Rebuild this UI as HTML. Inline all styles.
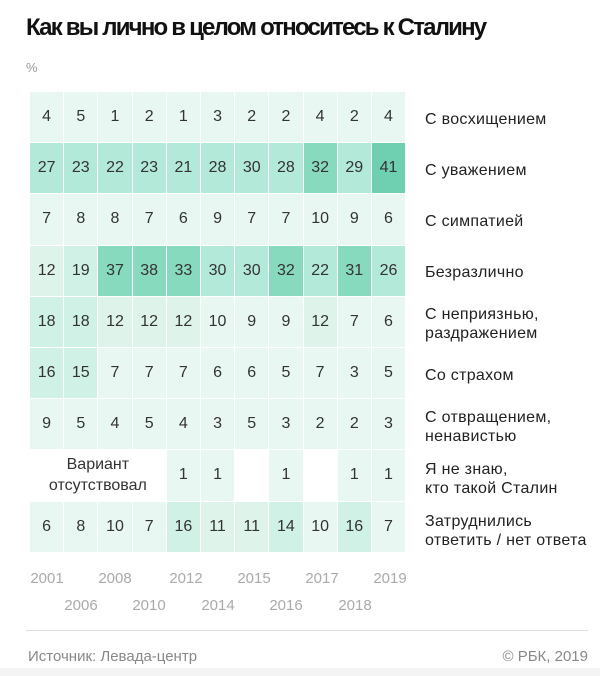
<!DOCTYPE html>
<html><head><meta charset="utf-8"><style>
body{margin:0;width:600px;height:676px;background:#fff;position:relative;overflow:hidden;font-family:"Liberation Sans","DejaVu Sans",sans-serif;color:#222}
.t{position:absolute;left:26px;top:14px;font-size:24px;font-weight:bold;letter-spacing:-1.8px;color:#111;white-space:nowrap}
.p{position:absolute;left:26px;top:60px;font-size:13px;color:#999}
.g{position:absolute;left:30px;top:92px;display:grid;grid-template-columns:repeat(11,33.2px);grid-auto-rows:50.2px;gap:1px}
.g div{display:flex;align-items:center;justify-content:center;font-size:16px;color:#333}
.a{background:#e8f7f1}.b{background:#def4eb}.c{background:#d0f1e5}.d{background:#b3e9d8}.e{background:#88dabf}.f{background:#6fd0b1}.w{background:#fff}
.g .v{grid-column:span 4;text-align:center;line-height:21px;font-size:16px}
.l{position:absolute;left:425px;font-size:16px;line-height:19px;color:#222;letter-spacing:0.3px;white-space:nowrap}
.y{position:absolute;font-size:15px;color:#aaa;width:50px;text-align:center}
.line{position:absolute;left:26px;top:630px;width:562px;height:1px;background:#ddd}
.s{position:absolute;top:648px;font-size:15px;color:#888}
.band{position:absolute;left:0;top:668px;width:600px;height:8px;background:#f4f4f4}
</style></head><body>
<div class="t">Как вы лично в целом относитесь к Сталину</div>
<div class="p">%</div>
<div class="g">
<div class="a">4</div><div class="a">5</div><div class="a">1</div><div class="a">2</div><div class="a">1</div><div class="a">3</div><div class="a">2</div><div class="a">2</div><div class="a">4</div><div class="a">2</div><div class="a">4</div>
<div class="d">27</div><div class="d">23</div><div class="d">22</div><div class="d">23</div><div class="d">21</div><div class="d">28</div><div class="d">30</div><div class="d">28</div><div class="e">32</div><div class="d">29</div><div class="f">41</div>
<div class="a">7</div><div class="a">8</div><div class="a">8</div><div class="a">7</div><div class="a">6</div><div class="a">9</div><div class="a">7</div><div class="a">7</div><div class="a">10</div><div class="a">9</div><div class="a">6</div>
<div class="b">12</div><div class="c">19</div><div class="e">37</div><div class="e">38</div><div class="e">33</div><div class="d">30</div><div class="d">30</div><div class="e">32</div><div class="d">22</div><div class="e">31</div><div class="d">26</div>
<div class="c">18</div><div class="c">18</div><div class="b">12</div><div class="b">12</div><div class="b">12</div><div class="a">10</div><div class="a">9</div><div class="a">9</div><div class="b">12</div><div class="a">7</div><div class="a">6</div>
<div class="c">16</div><div class="c">15</div><div class="a">7</div><div class="a">7</div><div class="a">7</div><div class="a">6</div><div class="a">6</div><div class="a">5</div><div class="a">7</div><div class="a">3</div><div class="a">5</div>
<div class="a">9</div><div class="a">5</div><div class="a">4</div><div class="a">5</div><div class="a">4</div><div class="a">3</div><div class="a">5</div><div class="a">3</div><div class="a">2</div><div class="a">2</div><div class="a">3</div>
<div class="w v">Вариант<br>отсутствовал</div><div class="a">1</div><div class="a">1</div><div class="w"></div><div class="a">1</div><div class="w"></div><div class="a">1</div><div class="a">1</div>
<div class="a">6</div><div class="a">8</div><div class="a">10</div><div class="a">7</div><div class="c">16</div><div class="b">11</div><div class="b">11</div><div class="c">14</div><div class="a">10</div><div class="c">16</div><div class="a">7</div>
</div>
<div class="l" style="top:110px">С восхищением</div>
<div class="l" style="top:161px">С уважением</div>
<div class="l" style="top:212px">С симпатией</div>
<div class="l" style="top:263px">Безразлично</div>
<div class="l" style="top:305px">С неприязнью,<br>раздражением</div>
<div class="l" style="top:366px">Со страхом</div>
<div class="l" style="top:408px">С отвращением,<br>ненавистью</div>
<div class="l" style="top:460px">Я не знаю,<br>кто такой Сталин</div>
<div class="l" style="top:512px">Затруднились<br>ответить / нет ответа</div>
<div class="y" style="left:22px;top:570px">2001</div>
<div class="y" style="left:56px;top:597px">2006</div>
<div class="y" style="left:90px;top:570px">2008</div>
<div class="y" style="left:124px;top:597px">2010</div>
<div class="y" style="left:161px;top:570px">2012</div>
<div class="y" style="left:193px;top:597px">2014</div>
<div class="y" style="left:229px;top:570px">2015</div>
<div class="y" style="left:261px;top:597px">2016</div>
<div class="y" style="left:297px;top:570px">2017</div>
<div class="y" style="left:330px;top:597px">2018</div>
<div class="y" style="left:365px;top:570px">2019</div>
<div class="line"></div>
<div class="s" style="left:28px">Источник: Левада-центр</div>
<div class="s" style="right:12px">© РБК, 2019</div>
<div class="band"></div>
</body></html>
